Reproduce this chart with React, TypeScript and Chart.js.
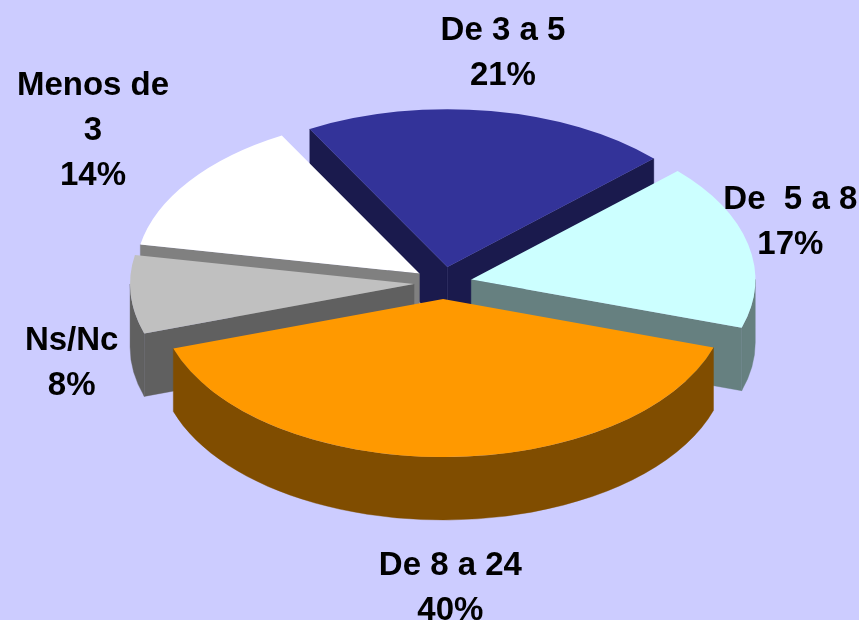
import React, { useEffect, useRef } from 'react';
import { Chart, registerables } from 'chart.js';

Chart.register(...registerables);

// ---- data ----
const categories = ['Menos de 3', 'De 3 a 5', 'De 5 a 8', 'De 8 a 24', 'Ns/Nc'];
const labelLines = [['Menos de', '3'], ['De 3 a 5'], ['De  5 a 8'], ['De 8 a 24'], ['Ns/Nc']];
const percentages = [14, 21, 17, 40, 8];
const topColors = ['#FFFFFF', '#333399', '#CCFFFF', '#FF9900', '#C0C0C0'];
const sideColors = ['#808080', '#1A1A4D', '#668080', '#804D00', '#606060'];

// ---- layout / style ----
const W = 859;
const H = 620;
const BG = '#CCCCFF';
const SQUASH = 0.556;
const DEPTH = 63;
const EXPLODE = 29;
const RADIUS = 284;
const ROTATION = 280.6;
const LABEL_DIST = 1.3;
const FONT_SIZE = 33;
const LINE_PITCH = 45;
const labelNudge = [
  [-27, -25],
  [-1, -14],
  [-41, -14],
  [6, 18],
  [26, 59],
];

const pie3d = {
  id: 'pie3d',
  beforeDraw(chart: any) {
    const ctx = chart.ctx;
    ctx.save();
    ctx.fillStyle = BG;
    ctx.fillRect(0, 0, chart.width, chart.height);
    ctx.restore();
  },
  afterDatasetsUpdate(chart: any) {
    const meta = chart.getDatasetMeta(0);
    const { left, right, top, bottom } = chart.chartArea;
    const cx = (left + right) / 2;
    const cy = (top + bottom) / 2;
    chart.$pieCenter = { cx, cy };
    meta.data.forEach((arc: any) => {
      const m = (arc.startAngle + arc.endAngle) / 2;
      arc.x = cx + Math.cos(m) * EXPLODE;
      arc.y = cy + Math.sin(m) * EXPLODE;
    });
  },
  beforeDatasetsDraw(chart: any) {
    const ctx = chart.ctx;
    const { cy } = chart.$pieCenter;
    const meta = chart.getDatasetMeta(0);
    ctx.save();
    ctx.translate(0, cy);
    ctx.scale(1, SQUASH);
    ctx.translate(0, -cy);
    const d = DEPTH / SQUASH;
    const items = meta.data.map((arc: any, i: number) => ({ arc, i }));
    items.sort((p: any, q: any) => {
      const mp = (p.arc.startAngle + p.arc.endAngle) / 2;
      const mq = (q.arc.startAngle + q.arc.endAngle) / 2;
      return Math.sin(mp) - Math.sin(mq);
    });
    for (const { arc, i } of items) {
      const { x, y, startAngle: a, endAngle: b, outerRadius: r } = arc;
      ctx.fillStyle = sideColors[i];
      ctx.strokeStyle = sideColors[i];
      ctx.lineWidth = 0.5;
      const face = (phi: number) => {
        ctx.beginPath();
        ctx.moveTo(x, y);
        ctx.lineTo(x + r * Math.cos(phi), y + r * Math.sin(phi));
        ctx.lineTo(x + r * Math.cos(phi), y + r * Math.sin(phi) + d);
        ctx.lineTo(x, y + d);
        ctx.closePath();
        ctx.fill();
        ctx.stroke();
      };
      if (Math.cos(a) < 0) face(a);
      if (Math.cos(b) > 0) face(b);
      for (let n = -1; n <= 2; n++) {
        const lo = Math.max(a, 2 * Math.PI * n);
        const hi = Math.min(b, 2 * Math.PI * n + Math.PI);
        if (hi > lo) {
          ctx.beginPath();
          ctx.arc(x, y, r, lo, hi, false);
          ctx.arc(x, y + d, r, hi, lo, true);
          ctx.closePath();
          ctx.fill();
          ctx.stroke();
        }
      }
    }
  },
  afterDatasetsDraw(chart: any) {
    chart.ctx.restore();
  },
  afterDraw(chart: any) {
    const ctx = chart.ctx;
    const { cy } = chart.$pieCenter;
    const meta = chart.getDatasetMeta(0);
    ctx.save();
    ctx.fillStyle = '#000000';
    ctx.font = `bold ${FONT_SIZE}px "Liberation Sans", Arial, sans-serif`;
    ctx.textAlign = 'center';
    ctx.textBaseline = 'alphabetic';
    const cap = FONT_SIZE * 0.716;
    meta.data.forEach((arc: any, i: number) => {
      const m = (arc.startAngle + arc.endAngle) / 2;
      const rho = arc.outerRadius * LABEL_DIST;
      const sx = arc.x + rho * Math.cos(m);
      const sySq = arc.y + rho * Math.sin(m);
      const ax = sx + labelNudge[i][0];
      const ay = cy + SQUASH * (sySq - cy) + DEPTH * Math.max(0, Math.sin(m)) + labelNudge[i][1];
      const lines = [...labelLines[i], `${percentages[i]}%`];
      const n = lines.length;
      const base1 = ay - ((n - 1) * LINE_PITCH) / 2 + cap / 2;
      lines.forEach((t, k) => ctx.fillText(t, ax, base1 + k * LINE_PITCH));
    });
    ctx.restore();
  },
};

export default function App() {
  const ref = useRef<HTMLCanvasElement>(null);
  useEffect(() => {
    document.body.style.margin = '0';
    document.body.style.background = BG;
    const chart = new Chart(ref.current as HTMLCanvasElement, {
      type: 'pie',
      data: {
        labels: categories,
        datasets: [
          {
            data: percentages,
            backgroundColor: topColors,
            borderWidth: 0,
            clip: false,
          } as any,
        ],
      },
      options: {
        responsive: false,
        animation: false,
        events: [],
        rotation: ROTATION,
        radius: RADIUS,
        layout: { padding: { left: 27, right: 0, top: 0, bottom: 54 } },
        plugins: {
          legend: { display: false },
          tooltip: { enabled: false },
        },
      } as any,
      plugins: [pie3d as any],
    });
    return () => chart.destroy();
  }, []);
  return (
    <div style={{ position: 'fixed', left: 0, top: 0, width: W, height: H, background: BG }}>
      <canvas ref={ref} width={W} height={H} style={{ display: 'block' }} />
    </div>
  );
}
